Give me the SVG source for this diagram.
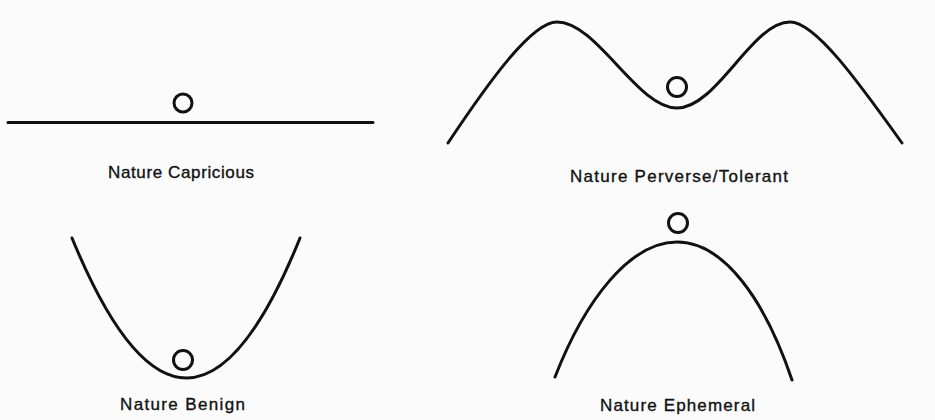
<svg xmlns="http://www.w3.org/2000/svg" width="935" height="420" viewBox="0 0 935 420">
<style>
.curve{fill:none;stroke:#111;stroke-width:3;stroke-linecap:round;stroke-linejoin:round}
.ball{fill:none;stroke:#111;stroke-width:3}
.lbl{font-family:"Liberation Sans",Arial,sans-serif;font-size:17px;fill:#111;stroke:#111;stroke-width:0.35;text-anchor:start}
</style>
<rect width="935" height="420" fill="#fbfbfb"/>
<g id="capricious">
<path class="curve" d="M8,122.5 L373,122.5"/>
<circle class="ball" cx="183" cy="103" r="9"/>
<text class="lbl" x="108" y="178" textLength="146" lengthAdjust="spacing">Nature Capricious</text>
</g>
<g id="perverse-tolerant">
<path class="curve" d="M448,143 C490,80 532,22 557,22 C597,22 637,108 677,108 C717,108 752,22 790,22 C815,22 857,80 902,143"/>
<circle class="ball" cx="677" cy="87" r="9.5"/>
<text class="lbl" x="570" y="182" textLength="218" lengthAdjust="spacing">Nature Perverse/Tolerant</text>
</g>
<g id="benign">
<path class="curve" d="M72,238 Q187,518 300,238"/>
<circle class="ball" cx="183" cy="360" r="9.5"/>
<text class="lbl" x="120" y="410" textLength="125" lengthAdjust="spacing">Nature Benign</text>
</g>
<g id="ephemeral">
<path class="curve" d="M555,377 C585,300 630,242 677,242 C724,242 765,300 792,380"/>
<circle class="ball" cx="678" cy="223" r="9.5"/>
<text class="lbl" x="600" y="411" textLength="155" lengthAdjust="spacing">Nature Ephemeral</text>
</g>
<g id="connectors"></g>
</svg>
